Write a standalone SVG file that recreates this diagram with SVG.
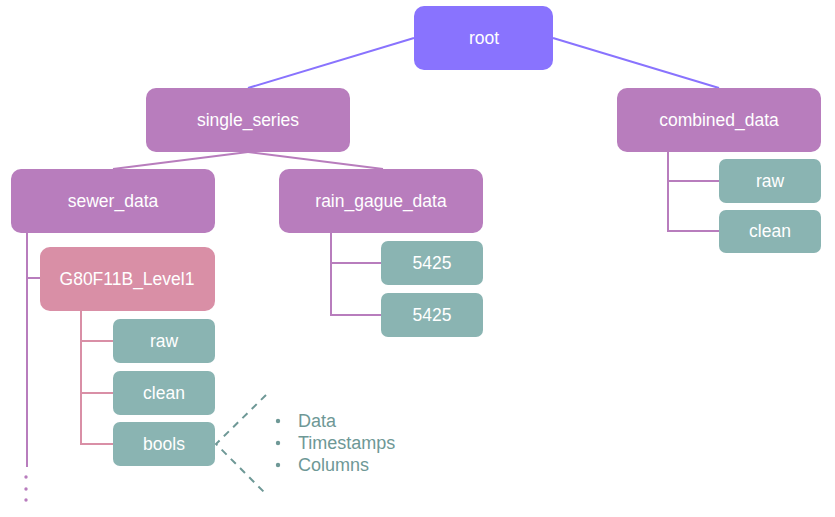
<svg xmlns="http://www.w3.org/2000/svg" width="835" height="517" viewBox="0 0 835 517">
<style>
text{font-family:"Liberation Sans",Arial,sans-serif;font-size:17.5px;fill:#fff;text-anchor:middle}
.root{fill:#8973FE}
.pur{fill:#B87DBD}
.pink{fill:#D98FA6}
.teal{fill:#8AB4B2}
.c1{stroke:#8973FE;stroke-width:2;fill:none}
.c2{stroke:#B87DBD;stroke-width:2;fill:none}
.c3{stroke:#D98FA6;stroke-width:2;fill:none}
.dash{stroke:#6E9896;stroke-width:2;fill:none;stroke-dasharray:7,6}
.note{fill:#6E9896;text-anchor:start;font-size:18px}
</style>
<rect width="835" height="517" fill="#fff"/>
<g id="connectors">
<line class="c1" x1="414" y1="38" x2="248" y2="88"/>
<line class="c1" x1="553" y1="38" x2="719" y2="88"/>
<line class="c2" x1="248" y1="152" x2="113" y2="169"/>
<line class="c2" x1="248" y1="152" x2="383" y2="169"/>
<polyline class="c2" points="27,233 27,467"/>
<line class="c2" x1="27" y1="278" x2="40" y2="278"/>
<polyline class="c2" points="331,233 331,315 381,315"/>
<line class="c2" x1="331" y1="263" x2="381" y2="263"/>
<polyline class="c2" points="668,152 668,231 719,231"/>
<line class="c2" x1="668" y1="181" x2="719" y2="181"/>
<polyline class="c3" points="81,311 81,444 113,444"/>
<line class="c3" x1="81" y1="341" x2="113" y2="341"/>
<line class="c3" x1="81" y1="393" x2="113" y2="393"/>
<polyline class="dash" points="266,395 216,444 266,494"/>
<circle cx="26" cy="477" r="1.7" fill="#B87DBD"/>
<circle cx="26" cy="489" r="1.7" fill="#B87DBD"/>
<circle cx="26" cy="500" r="1.7" fill="#B87DBD"/>
</g>
<g id="root"><rect class="root" x="414" y="6" width="139" height="64" rx="10"/><text x="484" y="44">root</text></g>
<g id="single_series"><rect class="pur" x="146" y="88" width="204" height="64" rx="10"/><text x="248" y="126">single_series</text></g>
<g id="combined_data"><rect class="pur" x="617" y="88" width="204" height="64" rx="10"/><text x="719" y="126">combined_data</text></g>
<g id="sewer_data"><rect class="pur" x="11" y="169" width="204" height="64" rx="10"/><text x="113" y="207">sewer_data</text></g>
<g id="rain_gague_data"><rect class="pur" x="279" y="169" width="204" height="64" rx="10"/><text x="381" y="207">rain_gague_data</text></g>
<g id="G80F11B_Level1"><rect class="pink" x="40" y="247" width="175" height="64" rx="10"/><text x="127" y="285">G80F11B_Level1</text></g>
<g id="raw1"><rect class="teal" x="113" y="319" width="102" height="44" rx="7"/><text x="164" y="347">raw</text></g>
<g id="clean1"><rect class="teal" x="113" y="371" width="102" height="44" rx="7"/><text x="164" y="399">clean</text></g>
<g id="bools"><rect class="teal" x="113" y="422" width="102" height="44" rx="7"/><text x="164" y="450">bools</text></g>
<g id="r5425a"><rect class="teal" x="381" y="241" width="102" height="44" rx="7"/><text x="432" y="269">5425</text></g>
<g id="r5425b"><rect class="teal" x="381" y="293" width="102" height="44" rx="7"/><text x="432" y="321">5425</text></g>
<g id="raw2"><rect class="teal" x="719" y="159" width="102" height="44" rx="7"/><text x="770" y="187">raw</text></g>
<g id="clean2"><rect class="teal" x="719" y="210" width="102" height="43" rx="7"/><text x="770" y="237">clean</text></g>
<g id="bools_note">
<circle cx="278" cy="421" r="2.2" fill="#6E9896"/>
<circle cx="278" cy="443" r="2.2" fill="#6E9896"/>
<circle cx="278" cy="465" r="2.2" fill="#6E9896"/>
<text class="note" x="298" y="427">Data</text>
<text class="note" x="298" y="449">Timestamps</text>
<text class="note" x="298" y="471">Columns</text>
</g>
</svg>
